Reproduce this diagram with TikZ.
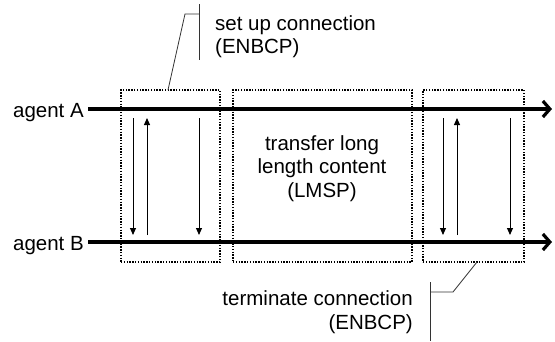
\documentclass[tikz,border=0pt]{standalone}
\usepackage{fontspec}
\setmainfont{Liberation Sans}
\usetikzlibrary{arrows.meta}
\begin{document}
\begin{tikzpicture}[x=1pt,y=-1pt,
  lbl/.style={font=\fontsize{20.5}{23.5}\selectfont, inner sep=0pt},
  phasebox/.style={draw, line width=1.4pt, dash pattern=on 1.4pt off 1.4pt, minimum width=#1, minimum height=172pt, inner sep=0pt},
  agentline/.style={line width=3.2pt, -{Straight Barb[length=7pt,width=16pt,line width=3.2pt]}},
  msg/.style={line width=1pt, -{Triangle[length=7pt,width=6pt]}},
  callout/.style={line width=0.8pt, draw=black!80}]
\useasboundingbox (0,0) rectangle (555,341);
% boxes
\node[phasebox=99pt] (box1) at (170.5,176) {};
\node[phasebox=179pt] (box2) at (322.5,176) {};
\node[phasebox=101pt] (box3) at (473.5,176) {};
% agents
\node[lbl, anchor=base east] (agentA) at (84,117) {agent A};
\node[lbl, anchor=base east] (agentB) at (84,250) {agent B};
\coordinate (A0) at (88,109); \coordinate (A1) at (552,109);
\coordinate (B0) at (88,242); \coordinate (B1) at (552,242);
\draw[agentline] (A0) -- (A1);
\draw[agentline] (B0) -- (B1);
% messages box1
\coordinate (m1a) at (133,118); \coordinate (m1b) at (133,235);
\coordinate (m2a) at (147,235); \coordinate (m2b) at (147,118);
\coordinate (m3a) at (199,118); \coordinate (m3b) at (199,235);
\draw[msg] (m1a) -- (m1b);
\draw[msg] (m2a) -- (m2b);
\draw[msg] (m3a) -- (m3b);
% messages box3
\coordinate (n1a) at (443,118); \coordinate (n1b) at (443,235);
\coordinate (n2a) at (457,235); \coordinate (n2b) at (457,118);
\coordinate (n3a) at (510,118); \coordinate (n3b) at (510,235);
\draw[msg] (n1a) -- (n1b);
\draw[msg] (n2a) -- (n2b);
\draw[msg] (n3a) -- (n3b);
% texts (base anchor = baseline of last line)
\node[lbl, anchor=base, align=center] (transfer) at (322,197) {transfer long\\length content\\(LMSP)};
\node[lbl, anchor=base west, align=left] (setup) at (215,53.5) {set up connection\\(ENBCP)};
\node[lbl, anchor=base east, align=right] (term) at (413,329) {terminate connection\\(ENBCP)};
% callouts
\coordinate (c1a) at (168,90); \coordinate (c1b) at (185,14); \coordinate (c1c) at (199,14);
\coordinate (c1t) at (199,4); \coordinate (c1u) at (199,60);
\draw[callout] (c1a) -- (c1b) -- (c1c);
\draw[callout] (c1t) -- (c1u);
\coordinate (c2a) at (477,262); \coordinate (c2b) at (453,292); \coordinate (c2c) at (430,292);
\coordinate (c2t) at (430,282); \coordinate (c2u) at (430,341);
\draw[callout] (c2a) -- (c2b) -- (c2c);
\draw[callout] (c2t) -- (c2u);
\end{tikzpicture}
\end{document}
